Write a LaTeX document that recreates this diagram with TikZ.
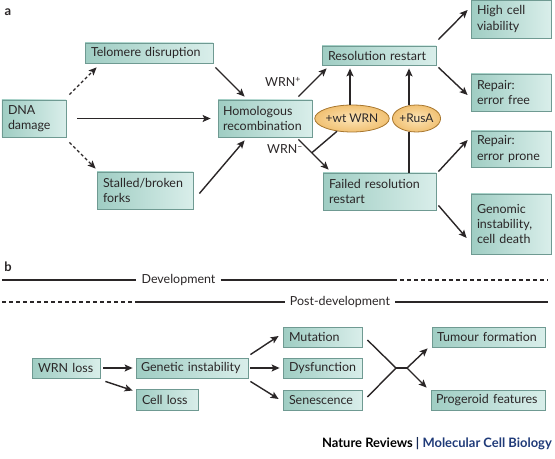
\documentclass[tikz,border=0pt]{standalone}
\usepackage{fontspec}
\setmainfont{Lato}
\usetikzlibrary{arrows.meta,shapes.geometric}
\definecolor{boxdark}{HTML}{9FCDC3}
\definecolor{boxlight}{HTML}{D9EEEA}
\definecolor{boxline}{HTML}{6F9A92}
\definecolor{ellin}{HTML}{FCE4B6}
\definecolor{ellout}{HTML}{F1C173}
\definecolor{ellline}{HTML}{A8772F}
\definecolor{txt}{HTML}{2A2627}
\definecolor{navy}{HTML}{1F3A78}
\hyphenpenalty=10000
\exhyphenpenalty=10000
\hfuzz=50pt
\begin{document}
\begin{tikzpicture}[x=1bp,y=-1bp,
  box/.style={draw=boxline, line width=0.8bp, left color=boxdark, right color=boxlight,
    inner xsep=6bp, inner ysep=1bp, align=left, text=txt,
    font=\fontsize{12.5}{15.5}\selectfont},
  ml/.style={text width=#1},
  ell/.style={ellipse, draw=ellline, line width=0.8bp, inner color=ellin, outer color=ellout,
    inner sep=0pt, text=txt, font=\fontsize{12}{14}\selectfont},
  arr/.style={line width=1.4bp, draw=txt, -{Stealth[length=8bp,width=7bp,inset=1.8bp]}},
  darr/.style={arr, dash pattern=on 3bp off 2.5bp},
  ln/.style={line width=1.4bp, draw=txt},
  dln/.style={ln, dash pattern=on 4bp off 3bp},
  lbl/.style={inner xsep=5bp, inner ysep=0pt, text=txt, font=\fontsize{12.5}{14}\selectfont},
  panel/.style={inner sep=0pt, text=txt, font=\fontsize{13}{15}\selectfont\bfseries}]
\useasboundingbox (0,0) rectangle (555,459);
% ---------------- panel a ----------------
\node[panel] (pa) at (8,12) {a};
\node[box, minimum width=128bp, minimum height=20bp, ml=116bp] (tel) at (149,53) {\mbox{Telomere disruption}};
\node[box, minimum width=64bp, minimum height=37bp, ml=52bp] (dna) at (34,118.5) {DNA\\damage};
\node[box, minimum width=96bp, minimum height=37bp, ml=84bp] (forks) at (145,190.5) {Stalled/broken\\forks};
\node[box, minimum width=94bp, minimum height=37bp, ml=84bp, inner xsep=5bp] (hr) at (265,118.5) {Homologous\\recombination};
\node[box, minimum width=114bp, minimum height=19bp, ml=102bp] (res) at (379,55.5) {\mbox{Resolution restart}};
\node[box, minimum width=113bp, minimum height=37bp, ml=101bp] (failed) at (379.5,191.5) {Failed resolution\\restart};
\node[box, minimum width=80bp, minimum height=38bp, ml=68bp] (high) at (511,19) {High cell\\viability};
\node[box, minimum width=80bp, minimum height=37bp, ml=68bp] (free) at (511,92.5) {Repair:\\error free};
\node[box, minimum width=80bp, minimum height=36bp, ml=68bp] (prone) at (511,149) {Repair:\\error prone};
\node[box, minimum width=80bp, minimum height=60bp, ml=68bp] (genomic) at (511,224) {Genomic\\instability,\\cell death};
\node[ell, minimum width=70bp, minimum height=27bp] (wt) at (352,118.5) {+wt WRN};
\node[ell, minimum width=45bp, minimum height=27bp] (rusa) at (416.5,118.5) {+RusA};
\node[lbl, inner sep=0pt] (wrnp) at (283,82) {WRN\textsuperscript{+}};
\node[lbl, inner sep=0pt] (wrnm) at (285,149) {WRN\textsuperscript{\textendash}};
% connectors a
\draw[darr] ([shift={(3,-5)}]dna.north east) -- ([shift={(12,4)}]tel.south west);
\draw[darr] ([shift={(3,5)}]dna.south east) -- ([shift={(-1,-3)}]forks.north west);
\draw[arr] ([xshift=11bp]dna.east) -- ([xshift=-7bp]hr.west);
\draw[arr] ([shift={(2,4)}]tel.south east) -- ([shift={(27,-3)}]hr.north west);
\draw[arr] ([shift={(6,3)}]forks.east) -- ([shift={(27,3)}]hr.south west);
\draw[arr] ([shift={(-14,-3)}]hr.north east) -- ([shift={(5,3)}]res.south west);
\draw[arr] ([shift={(-14,2)}]hr.south east) -- ([shift={(6,-3)}]failed.north west);
\coordinate (j) at (312,152.6);
\draw[ln] (j) -- (wt);
\draw[arr] ([xshift=-2bp]wt.north) -- ([xshift=-2bp, shift={(0,3)}]wt.north |- res.south);
\draw[ln] ([xshift=29.5bp]failed.north) -- ([xshift=29.5bp]failed.north |- rusa.south);
\draw[arr] ([xshift=29.5bp]failed.north |- rusa.north) -- ([xshift=29.5bp, shift={(0,3)}]failed.north |- res.south);
\draw[arr] ([shift={(2,-6)}]res.north east) -- ([shift={(-3,-9)}]high.west);
\draw[arr] ([shift={(2,2)}]res.south east) -- ([shift={(-3,2.5)}]free.west);
\draw[arr] ([shift={(2,-1)}]failed.north east) -- ([shift={(-3,-9)}]prone.west);
\draw[arr] ([shift={(2,-5)}]failed.south east) -- ([shift={(-4,14)}]genomic.west);
% ---------------- panel b ----------------
\node[panel] (pb) at (8,267) {b};
\node[lbl] (dev) at (178.5,280) {Development};
\coordinate (d0) at (2,280);
\coordinate (d1) at (393,280);
\coordinate (d2) at (548,280);
\draw[ln] (d0) -- (dev.west);
\draw[ln] (dev.east) -- (d1);
\draw[dln] (d1) -- (d2);
\node[lbl] (post) at (340,302) {Post-development};
\coordinate (p0) at (2,302);
\coordinate (p1) at (135,302);
\coordinate (p2) at (548,302);
\draw[dln] (p0) -- (p1);
\draw[ln] (p1) -- (post.west);
\draw[ln] (post.east) -- (p2);
\node[box, minimum width=68bp, minimum height=20bp, ml=56bp] (wrn) at (66,368) {\mbox{WRN loss}};
\node[box, minimum width=112bp, minimum height=20bp, ml=102bp, inner xsep=5bp] (gen) at (192,368) {\mbox{Genetic instability}};
\node[box, minimum width=62bp, minimum height=21bp, ml=50bp] (cell) at (167,399.5) {\mbox{Cell loss}};
\node[box, minimum width=79bp, minimum height=20bp, ml=67bp] (mut) at (322.5,337) {\mbox{Mutation}};
\node[box, minimum width=79bp, minimum height=20bp, ml=67bp] (dys) at (322.5,368) {\mbox{Dysfunction}};
\node[box, minimum width=79bp, minimum height=20bp, ml=67bp] (sen) at (322.5,400) {\mbox{Senescence}};
\node[box, minimum width=113bp, minimum height=20bp, ml=103bp, inner xsep=5bp] (tum) at (488.5,337) {\mbox{Tumour formation}};
\node[box, minimum width=114bp, minimum height=20bp, ml=104bp, inner xsep=5bp] (pro) at (488,400) {\mbox{Progeroid features}};
\draw[arr] ([xshift=3bp]wrn.east) -- ([xshift=-3bp]gen.west);
\draw[arr] ([shift={(5,3)}]wrn.south east) -- ([shift={(-3,-9)}]cell.west);
\draw[arr] ([shift={(2,-3)}]gen.north east) -- ([shift={(-4,-1)}]mut.west);
\draw[arr] ([xshift=2bp]gen.east) -- ([xshift=-3bp]dys.west);
\draw[arr] ([shift={(2,3)}]gen.south east) -- ([shift={(-4,-1)}]sen.west);
\coordinate (m1) at (396,368);
\coordinate (m2) at (407,368);
\draw[ln] ([shift={(5,3)}]mut.east) -- (m1);
\draw[ln] ([shift={(5,-3)}]sen.east) -- (m1);
\draw[ln] (m1) -- (m2);
\draw[arr] (m2) -- ([shift={(-4,1)}]tum.south west);
\draw[arr] (m2) -- ([shift={(-4,-2)}]pro.north west);
% footer
\node[anchor=east, inner sep=0pt, text=black, font=\fontsize{13}{15}\selectfont\bfseries] (foot) at (552,444)
  {Nature Reviews {\color{navy!70!black}|} \textcolor{navy}{Molecular Cell Biology}};
\end{tikzpicture}
\end{document}
